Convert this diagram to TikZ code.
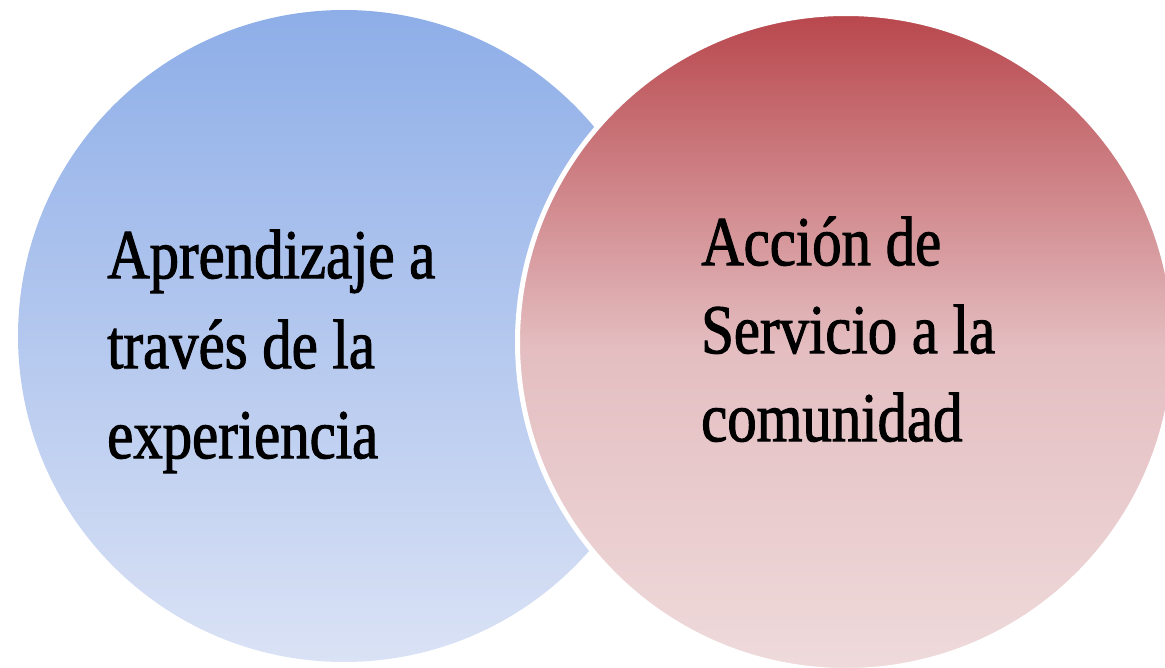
\documentclass[tikz,border=0pt]{standalone}
\usepackage{fontspec}
\newfontfamily\goudy[FakeStretch=0.84,FakeBold=1.5]{Liberation Serif}
\definecolor{btop}{HTML}{8EAEE8}
\definecolor{bbot}{HTML}{DAE2F5}
\definecolor{rtop}{HTML}{B8474D}
\definecolor{rone}{HTML}{CF8589}
\definecolor{rtwo}{HTML}{E4BEC1}
\definecolor{rthree}{HTML}{E8C9CB}
\definecolor{rbot}{HTML}{EFDADB}
\pgfdeclareverticalshading{redshade}{100bp}{color(0bp)=(rbot); color(25bp)=(rbot); color(40.2bp)=(rthree); color(49.4bp)=(rtwo); color(61.7bp)=(rone); color(75bp)=(rtop); color(100bp)=(rtop)}
\pgfdeclareverticalshading{blueshade}{100bp}{color(0bp)=(bbot); color(25bp)=(bbot); color(75bp)=(btop); color(100bp)=(btop)}
\tikzset{
  bubble/.style={circle, inner sep=0pt, shade},
  label text/.style={anchor=north west, inner sep=0pt, align=left, text=black, font={\goudy\fontsize{70}{90}\selectfont}}
}
\begin{document}
\begin{tikzpicture}[x=1pt,y=-1pt]
\useasboundingbox (0,0) rectangle (1165,667);
\clip (0,0) rectangle (1165,667);
\node[bubble, shading=blueshade, minimum size=652pt] (blue) at (344,336) {};
\node[bubble, shading=redshade, draw=white, line width=5pt, minimum size=657pt] (red) at (846,342) {};
\node[label text] (lefttext) at (107,218) {\rule{0pt}{60pt}Aprendizaje a\\través de la\\experiencia};
\node[label text, font={\goudy\fontsize{70}{88}\selectfont}] (righttext) at (701,205) {\rule{0pt}{60pt}Acción de\\Servicio a la\\comunidad};
\end{tikzpicture}
\end{document}
